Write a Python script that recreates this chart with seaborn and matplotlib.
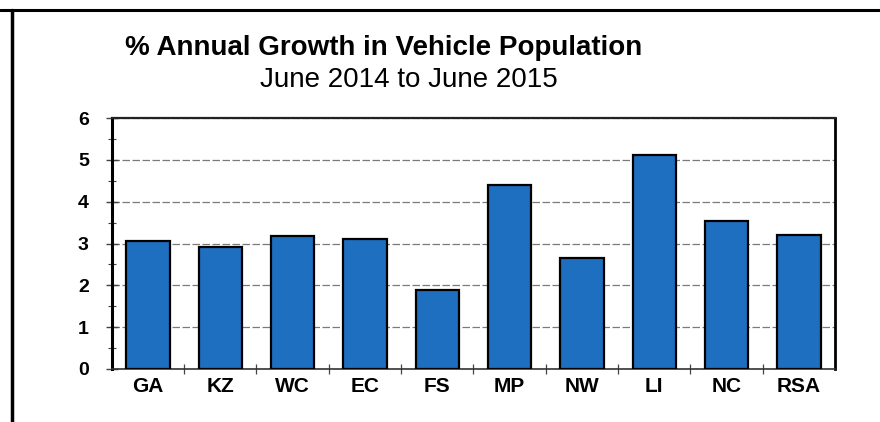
import numpy as np
import pandas as pd
import matplotlib
matplotlib.use("Agg")
import matplotlib.pyplot as plt
from matplotlib.lines import Line2D
from matplotlib.ticker import MultipleLocator
import seaborn as sns

regions = ["GA", "KZ", "WC", "EC", "FS", "MP", "NW", "LI", "NC", "RSA"]
growth = [3.05, 2.91, 3.18, 3.11, 1.89, 4.40, 2.66, 5.11, 3.54, 3.21]
y_ticks = [0, 1, 2, 3, 4, 5, 6]

title_main = "% Annual Growth in Vehicle Population"
title_sub = "June 2014 to June 2015"

sns.set_style("white")
plt.rcParams["font.family"] = ["Liberation Sans", "DejaVu Sans"]
plt.rcParams["text.color"] = "black"
plt.rcParams["xtick.color"] = "black"
plt.rcParams["ytick.color"] = "black"

df = pd.DataFrame({"region": regions, "growth": growth})

fig = plt.figure(figsize=(8.8, 4.22), dpi=100)
ax = fig.add_axes([0.127, 0.1256, 0.822, 0.5944])

sns.barplot(data=df, x="region", y="growth", color="#1f6fc0", saturation=1,
            width=0.6, edgecolor="black", linewidth=1.6, ax=ax, zorder=3)

ax.set_xlim(-0.5, len(regions) - 0.5)
ax.set_ylim(0, 6)
ax.set_yticks(y_ticks)
ax.yaxis.set_minor_locator(MultipleLocator(0.5))
ax.set_xticks(np.arange(len(regions)))
ax.set_xticks(np.arange(len(regions) - 1) + 0.5, minor=True)
ax.set_xlabel("")
ax.set_ylabel("")

ax.grid(axis="y", which="major", linestyle=(0, (6, 2)), color="#7a7a7a",
        linewidth=0.9, zorder=0)

for lbl in ax.get_xticklabels():
    lbl.set_fontweight("bold")
    lbl.set_fontsize(15)
for lbl in ax.get_yticklabels():
    lbl.set_fontweight("bold")
    lbl.set_fontsize(14)

ax.tick_params(axis="x", which="major", bottom=False, length=0, pad=6,
               labelcolor="black")
ax.tick_params(axis="x", which="minor", bottom=True, direction="inout",
               length=7, width=0.9, color="#444444")
ax.tick_params(axis="y", which="major", left=True, direction="inout",
               length=9, width=1, color="#444444", pad=12, labelcolor="black")
ax.tick_params(axis="y", which="minor", left=True, direction="inout",
               length=6, width=0.8, color="#444444")

ax.spines["left"].set_linewidth(2.2)
ax.spines["left"].set_color("black")
ax.spines["bottom"].set_linewidth(1.2)
ax.spines["bottom"].set_color("#333333")
ax.spines["top"].set_linewidth(1.6)
ax.spines["top"].set_color("#222222")
ax.spines["right"].set_linewidth(2.0)
ax.spines["right"].set_color("black")

fig.text(384 / 880, 1 - 48 / 422, title_main, ha="center", va="center",
         fontsize=20, fontweight="bold", color="black")
fig.text(409 / 880, 1 - 80 / 422, title_sub, ha="center", va="center",
         fontsize=20, color="black")

# frame of the scanned figure
fig.add_artist(Line2D([0, 1], [1 - 10 / 422, 1 - 10 / 422], color="black",
                      linewidth=2.2, transform=fig.transFigure))
fig.add_artist(Line2D([12 / 880, 12 / 880], [0, 1 - 10 / 422], color="black",
                      linewidth=2.5, transform=fig.transFigure))

fig.savefig("out.png", dpi=100)
